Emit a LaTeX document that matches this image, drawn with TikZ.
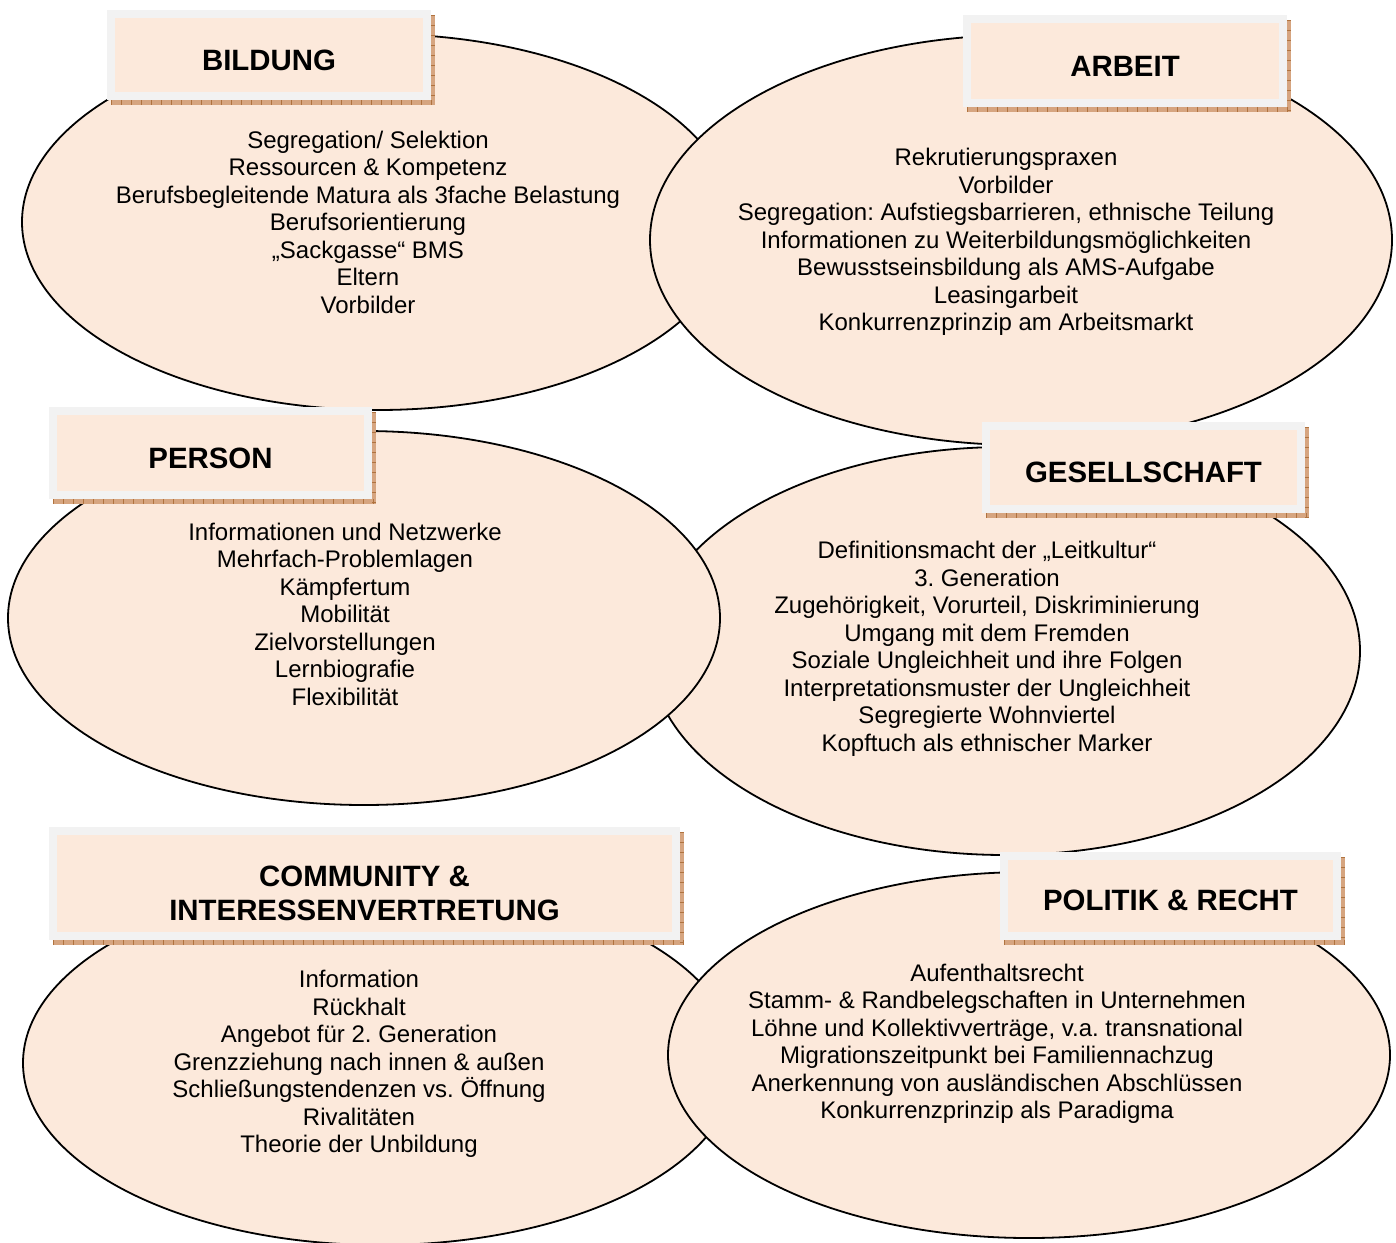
\documentclass[tikz,border=0pt]{standalone}
\usepackage{fontspec}
\setmainfont{Liberation Sans}
\usetikzlibrary{shapes.geometric}
\definecolor{peach}{HTML}{FCE9DB}
\definecolor{boxgray}{HTML}{F2F2F2}
\definecolor{shadowc}{HTML}{D6A580}
\definecolor{tickc}{HTML}{B0733F}
\frenchspacing
\tikzset{
  ell/.style={ellipse, draw=black, line width=1.8pt, fill=peach, inner sep=0pt, outer sep=0pt},
  body/.style={align=center, font=\fontsize{24}{27.5}\selectfont\frenchspacing, inner sep=0pt},
  titlebox/.style={rectangle, draw=boxgray, line width=8pt, fill=peach, inner sep=0pt, outer sep=0pt},
  titletext/.style={align=center, inner sep=0pt, font=\fontsize{29.4}{34}\selectfont\bfseries},
  shadowbox/.style={fill=shadowc},
  ticks/.style={draw=tickc, dash pattern=on 1pt off 9pt}
}
\newcommand{\titlebox}[7]{%
  \fill[shadowbox] ({#2+4},{#3+5}) rectangle ({#4+4},{#5+5});
  \draw[ticks, line width=5pt] ({#2+4},{#5+2.5}) -- ({#4+4},{#5+2.5});
  \draw[ticks, line width=4pt] ({#4+2},{#3+5}) -- ({#4+2},{#5+5});
  \node[titlebox, minimum width={#4-#2-8}, minimum height={#5-#3-8}] (#1) at ({(#2+#4)/2},{(#3+#5)/2}) {};
  \node[titletext] (#1t) at ({(#2+#4)/2},{(#3+#5)/2+#7}) {#6};
}
\begin{document}
\begin{tikzpicture}[x=1pt,y=-1pt]
\useasboundingbox (0,0) rectangle (1396,1242);
% ellipses
\node[ell, minimum width=712, minimum height=376] (eBildung) at (378,222) {};
\node[ell, minimum width=742, minimum height=410] (eArbeit) at (1021,240) {};
\node[ell, minimum width=710, minimum height=408] (eGesell) at (1005,651) {};
\node[ell, minimum width=712, minimum height=374] (ePerson) at (364,618) {};
\node[ell, minimum width=714, minimum height=364] (eComm) at (380,1063) {};
\node[ell, minimum width=722, minimum height=366] (ePolitik) at (1029,1055) {};
% texts
\node[body] (tBildung) at (368,222) {Segregation/ Selektion\\Ressourcen \& Kompetenz\\Berufsbegleitende Matura als 3fache Belastung\\Berufsorientierung\\„Sackgasse“ BMS\\Eltern\\Vorbilder};
\node[body] (tArbeit) at (1006,242) {Rekrutierungspraxen\\Vorbilder\\Segregation: Aufstiegsbarrieren, ethnische Teilung\\Informationen zu Weiterbildungsmöglichkeiten\\Bewusstseinsbildung als AMS-Aufgabe\\Leasingarbeit\\Konkurrenzprinzip am Arbeitsmarkt};
\node[body] (tPerson) at (345,614) {Informationen und Netzwerke\\Mehrfach-Problemlagen\\Kämpfertum\\Mobilität\\Zielvorstellungen\\Lernbiografie\\Flexibilität};
\node[body] (tGesell) at (987,649) {Definitionsmacht der „Leitkultur“\\3. Generation\\Zugehörigkeit, Vorurteil, Diskriminierung\\Umgang mit dem Fremden\\Soziale Ungleichheit und ihre Folgen\\Interpretationsmuster der Ungleichheit\\Segregierte Wohnviertel\\Kopftuch als ethnischer Marker};
\node[body] (tComm) at (359,1064) {Information\\Rückhalt\\Angebot für 2. Generation\\Grenzziehung nach innen \& außen\\Schließungstendenzen vs. Öffnung\\Rivalitäten\\Theorie der Unbildung};
\node[body] (tPolitik) at (997,1044) {Aufenthaltsrecht\\Stamm- \& Randbelegschaften in Unternehmen\\Löhne und Kollektivverträge, v.a. transnational\\Migrationszeitpunkt bei Familiennachzug\\Anerkennung von ausländischen Abschlüssen\\Konkurrenzprinzip als Paradigma};
% title boxes
\titlebox{bBildung}{107}{10}{431}{100}{BILDUNG}{5}
\titlebox{bArbeit}{963}{15}{1287}{107}{ARBEIT}{5}
\titlebox{bPerson}{49}{407}{372}{499}{PERSON}{5}
\titlebox{bGesell}{982}{422}{1305}{513}{GESELLSCHAFT}{5}
\titlebox{bComm}{49}{827}{680}{940}{COMMUNITY \&\\INTERESSENVERTRETUNG}{10}
\titlebox{bPolitik}{1000}{852}{1341}{940}{POLITIK \& RECHT}{4}
\end{tikzpicture}
\end{document}
